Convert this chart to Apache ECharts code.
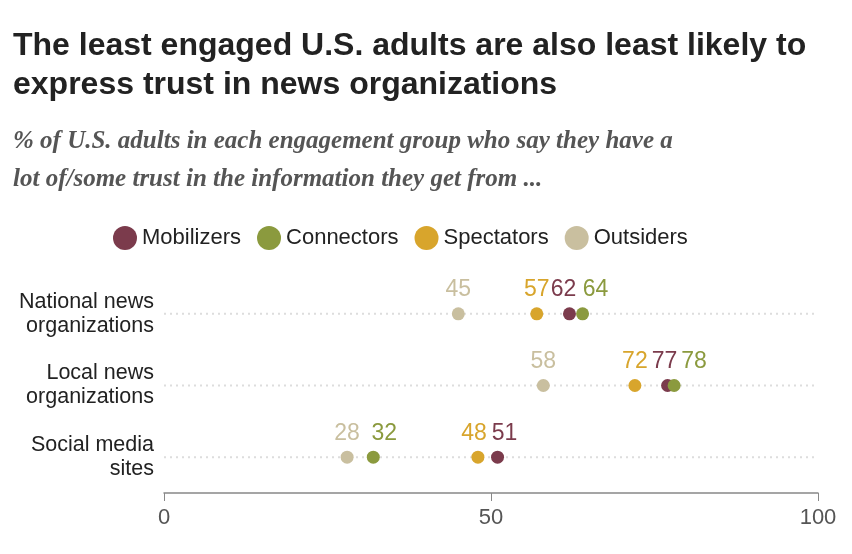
<!DOCTYPE html>
<html><head><meta charset="utf-8">
<script src="https://cdn.jsdelivr.net/npm/echarts@6/dist/echarts.min.js"></script>
<style>html,body{margin:0;padding:0;background:#fff}#c{width:852px;height:554px}</style>
</head><body><div id="c"></div>
<script>
const categories = ["National news\norganizations", "Local news\norganizations", "Social media\nsites"];
const seriesNames = ["Mobilizers", "Connectors", "Spectators", "Outsiders"];
const mobilizers = [62, 77, 51];
const connectors = [64, 78, 32];
const spectators = [57, 72, 48];
const outsiders = [45, 58, 28];
const xTicks = [0, 50, 100];

const colors = ["#7b3b4c", "#8b9a3e", "#d8a52c", "#c9bf9f"];
const values = [mobilizers, connectors, spectators, outsiders];
const labelOffsets = [[[-6,0],[-3,0],[7,0]], [[13,0],[20,0],[11,0]], [[0,0],[0,0],[-4,0]], [[0,0],[0,0],[0,0]]];

const series = [];
categories.forEach((c) => {
  series.push({type:'line', silent:true, symbol:'none', data:[[0,c],[100,c]],
    lineStyle:{color:'#ddd', type:[2,4], width:2}, z:1, legendHoverLink:false});
});
seriesNames.forEach((n, i) => {
  series.push({name:n, type:'scatter', symbolSize:13, z:3,
    itemStyle:{color:colors[i], opacity:1},
    data: values[i].map((v, j) => ({value:[v, categories[j]],
      label:{offset:labelOffsets[i][j]}})),
    label:{show:true, position:'top', distance:6, formatter:p=>p.value[0],
      color:colors[i], fontSize:23, fontFamily:'Liberation Sans, Arial'}});
});

const chart = echarts.init(document.getElementById('c'));
chart.setOption({
  animation:false,
  title:[{text:'The least engaged U.S. adults are also least likely to\nexpress trust in news organizations', left:8, top:22,
    textStyle:{fontSize:32, fontWeight:'bold', color:'#222', lineHeight:39, fontFamily:'Liberation Sans, Arial'}},
   {text:'{i|% of U.S. adults in each engagement group who say they have }{b|a}\n{b|lot of/some trust}{i| in the information they get from ...}', left:8, top:118,
    textStyle:{rich:{i:{fontSize:25, fontStyle:'italic', color:'#555', fontFamily:'Liberation Serif, serif', lineHeight:38},
      b:{fontSize:25, fontStyle:'italic', fontWeight:'bold', color:'#555', fontFamily:'Liberation Serif, serif', lineHeight:38}}}}],
  legend:{data:seriesNames, left:108, top:221, itemWidth:24, itemHeight:24, itemGap:16, icon:'circle',
    textStyle:{fontSize:22, color:'#222', fontFamily:'Liberation Sans, Arial'}},
  grid:{left:164, right:34, top:278, bottom:61},
  xAxis:{type:'value', min:0, max:100, interval:50,
    axisLine:{show:true, lineStyle:{color:'#888', width:1.5}},
    axisTick:{show:true, length:8, lineStyle:{color:'#888'}},
    splitLine:{show:false},
    axisLabel:{fontSize:22, color:'#555', margin:14, formatter:v=>xTicks.includes(v)?String(v):''}},
  yAxis:{type:'category', data:categories, inverse:true,
    axisLine:{show:false}, axisTick:{show:false}, splitLine:{show:false},
    axisLabel:{fontSize:21.5, color:'#222', align:'right', margin:10, lineHeight:24, fontFamily:'Liberation Sans, Arial'}},
  series
});
</script></body></html>
